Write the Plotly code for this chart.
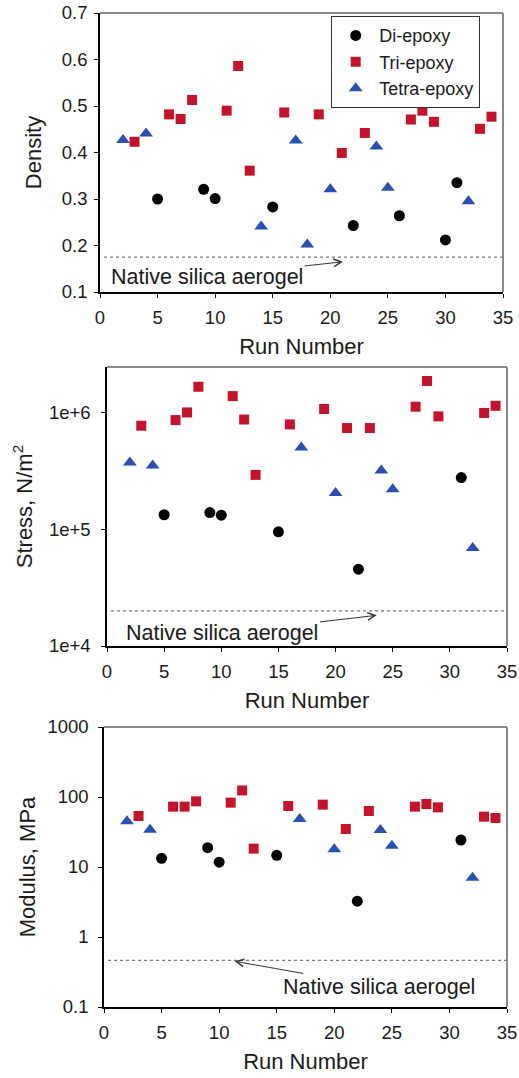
import numpy as np
import plotly.graph_objects as go

# ---------------- data ----------------
di_runs = [5, 9, 10, 15, 22, 26, 30, 31]
di_density = [0.300, 0.321, 0.301, 0.283, 0.243, 0.264, 0.212, 0.335]

tri_runs = [3, 6, 7, 8, 11, 12, 13, 16, 19, 21, 23, 27, 28, 29, 33, 34]
tri_density = [0.423, 0.482, 0.472, 0.513, 0.490, 0.586, 0.361, 0.486, 0.482,
               0.399, 0.442, 0.471, 0.490, 0.466, 0.451, 0.477]

tetra_runs = [2, 4, 14, 17, 18, 20, 24, 25, 32]
tetra_density = [0.427, 0.441, 0.241, 0.426, 0.202, 0.321, 0.413, 0.324, 0.295]

# stress (N/m^2)
di_stress_runs = [5, 9, 10, 15, 22, 31]
di_stress = [1.33e5, 1.39e5, 1.32e5, 9.5e4, 4.55e4, 2.77e5]
tri_stress = [7.7e5, 8.6e5, 1.0e6, 1.66e6, 1.38e6, 8.7e5, 2.92e5, 7.9e5, 1.07e6,
              7.35e5, 7.35e5, 1.12e6, 1.86e6, 9.25e5, 9.9e5, 1.14e6]
tetra_stress_runs = [2, 4, 17, 20, 24, 25, 32]
tetra_stress = [3.73e5, 3.51e5, 5.0e5, 2.04e5, 3.18e5, 2.2e5, 6.9e4]

# modulus (MPa)
di_modulus = [13.3, 18.9, 11.7, 14.7, 3.25, 24.3]
tri_modulus = [53.5, 72.8, 72.8, 86.7, 83.0, 124.0, 18.3, 74.4, 77.7, 34.9, 63.1,
               72.8, 79.4, 71.2, 52.4, 50.1]
tetra_modulus = [44.9, 34.1, 48.5, 17.9, 33.8, 20.2, 7.0]

native_density = 0.175
native_stress = 2.0e4
native_modulus = 0.465

stress_tickvals = [1e4, 1e5, 1e6]
stress_ticktext = ["1e+4", "1e+5", "1e+6"]
modulus_tickvals = [0.1, 1, 10, 100, 1000]
modulus_ticktext = ["0.1", "1", "10", "100", "1000"]
x_ticks = [0, 5, 10, 15, 20, 25, 30, 35]

series_names = ["Di-epoxy", "Tri-epoxy", "Tetra-epoxy"]

# ---------------- style ----------------
W, H = 519, 1078
FONT = "Liberation Sans, Arial, sans-serif"
TXT = "#1a1a1a"
RED = "#C3142B"
BLUE = "#2A4FAE"
styles = [
    dict(symbol="circle", color="black", size=11),
    dict(symbol="square", color=RED, size=10),
    dict(symbol="triangle-up", color=BLUE, size=12),
]

def px_dom_x(l, r):
    return [l / W, r / W]

def px_dom_y(t, b):
    return [1 - b / H, 1 - t / H]

fig = go.Figure()

panels = [
    dict(xd=(100, 503), yd=(13, 292), ystand=3,
         data=[(di_runs, di_density), (tri_runs, tri_density), (tetra_runs, tetra_density)]),
    dict(xd=(107, 507), yd=(367, 646), ystand=7,
         data=[(di_stress_runs, di_stress), (tri_runs, tri_stress), (tetra_stress_runs, tetra_stress)]),
    dict(xd=(104, 507), yd=(727, 1007), ystand=6,
         data=[(di_stress_runs, di_modulus), (tri_runs, tri_modulus), (tetra_stress_runs, tetra_modulus)]),
]

for i, p in enumerate(panels):
    n = "" if i == 0 else str(i + 1)
    for j, (xs, ys) in enumerate(p["data"]):
        st = styles[j]
        fig.add_trace(go.Scatter(
            x=xs, y=ys, mode="markers", name=series_names[j],
            showlegend=(i == 0), legendgroup=series_names[j],
            marker=dict(symbol=st["symbol"], color=st["color"], size=st["size"],
                        line=dict(width=0)),
            xaxis="x" + n, yaxis="y" + n,
        ))

axis_common = dict(
    showgrid=False, zeroline=False, showline=True, linecolor="black", linewidth=1.5,
    ticks="outside", ticklen=4, tickwidth=1.2, tickcolor="black",
    tickfont=dict(family=FONT, size=18.5, color=TXT),
    automargin=False,
)
title_font = dict(family=FONT, size=22, color=TXT)

layout = dict(
    width=W, height=H, margin=dict(l=0, r=0, t=0, b=0),
    paper_bgcolor="white", plot_bgcolor="white",
    showlegend=True,
    legend=dict(
        x=331 / W, y=1 - 16 / H, xanchor="left", yanchor="top",
        bordercolor="#333", borderwidth=1.2, bgcolor="white",
        font=dict(family=FONT, size=18, color=TXT),
        itemwidth=37, tracegroupgap=0,
    ),
)

for i, p in enumerate(panels):
    n = "" if i == 0 else str(i + 1)
    layout["xaxis" + n] = dict(
        axis_common, domain=px_dom_x(*p["xd"]), anchor="y" + n,
        range=[0, 35], tickvals=x_ticks, ticklabelstandoff=4,
        title=dict(text="Run Number", font=title_font, standoff=12),
    )

layout["yaxis"] = dict(
    axis_common, domain=px_dom_y(*panels[0]["yd"]), anchor="x",
    range=[0.1, 0.7], tickvals=[0.1, 0.2, 0.3, 0.4, 0.5, 0.6, 0.7],
    ticktext=["0.1", "0.2", "0.3", "0.4", "0.5", "0.6", "0.7"],
    ticklabelstandoff=panels[0]["ystand"],
    title=dict(text="Density", font=title_font, standoff=14),
)
layout["yaxis2"] = dict(
    axis_common, domain=px_dom_y(*panels[1]["yd"]), anchor="x2", type="log",
    range=[4, np.log10(2.45e6)], tickvals=stress_tickvals, ticktext=stress_ticktext,
    ticklabelstandoff=panels[1]["ystand"],
    title=dict(text="Stress, N/m<sup>2</sup>", font=title_font, standoff=10),
)
layout["yaxis3"] = dict(
    axis_common, domain=px_dom_y(*panels[2]["yd"]), anchor="x3", type="log",
    range=[-1, 3], tickvals=modulus_tickvals, ticktext=modulus_ticktext,
    ticklabelstandoff=panels[2]["ystand"],
    title=dict(text="Modulus, MPa", font=title_font, standoff=6),
)
fig.update_layout(**layout)

shapes = []
natives = [native_density, native_stress, native_modulus]
for i in range(3):
    n = "" if i == 0 else str(i + 1)
    xr, yr = "x" + n + " domain", "y" + n + " domain"
    shapes.append(dict(type="line", xref=xr, yref=yr, x0=0, x1=1, y0=1, y1=1,
                       line=dict(color="#8a8a8a", width=2)))
    shapes.append(dict(type="line", xref=xr, yref=yr, x0=1, x1=1, y0=0, y1=1,
                       line=dict(color="#8a8a8a", width=2)))
    shapes.append(dict(type="line", xref=xr, yref="y" + n, x0=0.01, x1=1,
                       y0=natives[i], y1=natives[i],
                       line=dict(color="#777", width=1.3, dash="dot")))
fig.update_layout(shapes=shapes)

ann_font = dict(family=FONT, size=21.5, color=TXT)
arrow = dict(showarrow=True, arrowhead=5, arrowsize=1.5, arrowwidth=1,
             arrowcolor="#333")
fig.add_annotation(text="Native silica aerogel", xref="x", yref="y",
                   x=21.1, y=0.165, axref="x", ayref="y", ax=9.3, ay=0.133,
                   font=ann_font, **arrow)
fig.add_annotation(text="Native silica aerogel", xref="x2", yref="y2",
                   x=23.6, y=np.log10(1.83e4), axref="x2", ayref="y2",
                   ax=10.1, ay=4.11, font=ann_font, **arrow)
fig.add_annotation(text="Native silica aerogel", xref="x3", yref="y3",
                   x=11.35, y=np.log10(0.45), axref="x3", ayref="y3",
                   ax=23.9, ay=-0.714, font=ann_font, **arrow)

fig.write_html("out.html")
